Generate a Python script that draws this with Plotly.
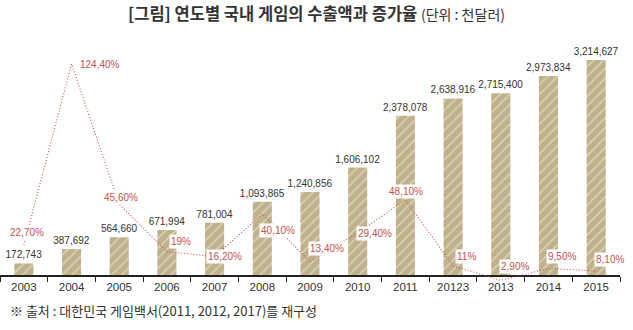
import plotly.graph_objects as go

years = ["2003", "2004", "2005", "2006", "2007", "2008", "2009", "2010", "2011", "20123", "2013", "2014", "2015"]
exports = [172743, 387692, 564660, 671994, 781004, 1093865, 1240856, 1606102, 2378078, 2638916, 2715400, 2973834, 3214627]
growth = [22.7, 124.4, 45.6, 19.0, 16.2, 40.1, 13.4, 29.4, 48.1, 11.0, 2.9, 9.5, 8.1]
growth_labels = ["22,70%", "124,40%", "45,60%", "19%", "16,20%", "40,10%", "13,40%", "29,40%", "48,10%", "11%", "2,90%", "9,50%", "8,10%"]

# label offsets (xshift, yshift) in px relative to each point
label_shift = [(3, 13), (28, 0), (2, 7), (14, 10), (10, 0), (16, -16), (17, 13), (17, 0), (1, 8), (13, 9), (14, 14), (14, 12), (14, 11)]

LABEL_FONT = "Liberation Sans, Arial, sans-serif"
RED = "#c8504e"

fig = go.Figure()
fig.add_trace(go.Bar(
    x=years, y=exports, xaxis="x", yaxis="y",
    marker=dict(color="#bfb189", line=dict(width=0),
                pattern=dict(shape="/", fgcolor="#ffffff", fgopacity=0.45, size=7, solidity=0.22)),
    texttemplate="%{y:,}", textposition="outside", cliponaxis=False, constraintext="none",
    textfont=dict(family=LABEL_FONT, size=10, color="#333333"),
    showlegend=False,
))
fig.add_trace(go.Scatter(
    x=years, y=growth, xaxis="x2", yaxis="y2", mode="lines",
    line=dict(color=RED, width=1.1, dash="1px,2px"), cliponaxis=False, showlegend=False,
))

annotations = []
for i, (g, lab, (dx, dy)) in enumerate(zip(growth, growth_labels, label_shift)):
    annotations.append(dict(
        x=i, y=g, xref="x", yref="y2", text=lab, showarrow=False,
        xshift=dx, yshift=dy, bgcolor="white", borderpad=1,
        font=dict(family=LABEL_FONT, size=10, color=RED),
    ))
annotations.append(dict(
    x=0, y=-0.08, xref="paper", yref="paper", xanchor="left", yanchor="middle",
    xshift=8, showarrow=False,
    text="※ 출처 : 대한민국 게임백서(2011, 2012, 2017)를 재구성",
    font=dict(family="Noto Sans CJK KR", size=13, color="#333333"),
))

fig.update_layout(
    width=633, height=330,
    margin=dict(l=0, r=13, t=40, b=40),
    paper_bgcolor="white", plot_bgcolor="rgba(0,0,0,0)",
    bargap=0.6,
    title=dict(
        text="<b>[그림] 연도별 국내 게임의 수출액과 증가율</b> <span style='font-size:14px'>(단위 : 천달러)</span>",
        x=0.5, xanchor="center", y=1 - 14 / 330, yanchor="middle",
        font=dict(family="Noto Sans CJK KR", size=16.5, color="#333333"),
    ),
    xaxis=dict(type="category", domain=[0, 1], anchor="y", range=[-0.5, 12.5],
               showline=True, linecolor="#222222", linewidth=1.5,
               ticks="outside", tickson="boundaries", ticklen=5, tickcolor="#222222", tickwidth=1,
               tickfont=dict(family="Liberation Sans, Arial, sans-serif", size=11.5, color="#333333"),
               showgrid=False, zeroline=False),
    yaxis=dict(domain=[0.06, 1], anchor="x", range=[0, 3512000], visible=False, showgrid=False),
    xaxis2=dict(type="category", domain=[0, 1], anchor="y2", range=[-0.5, 12.5], visible=False),
    yaxis2=dict(domain=[0, 1], anchor="x2", range=[-2.58, 137.9], visible=False, showgrid=False),
    annotations=annotations,
)

fig.write_html("out.html")
